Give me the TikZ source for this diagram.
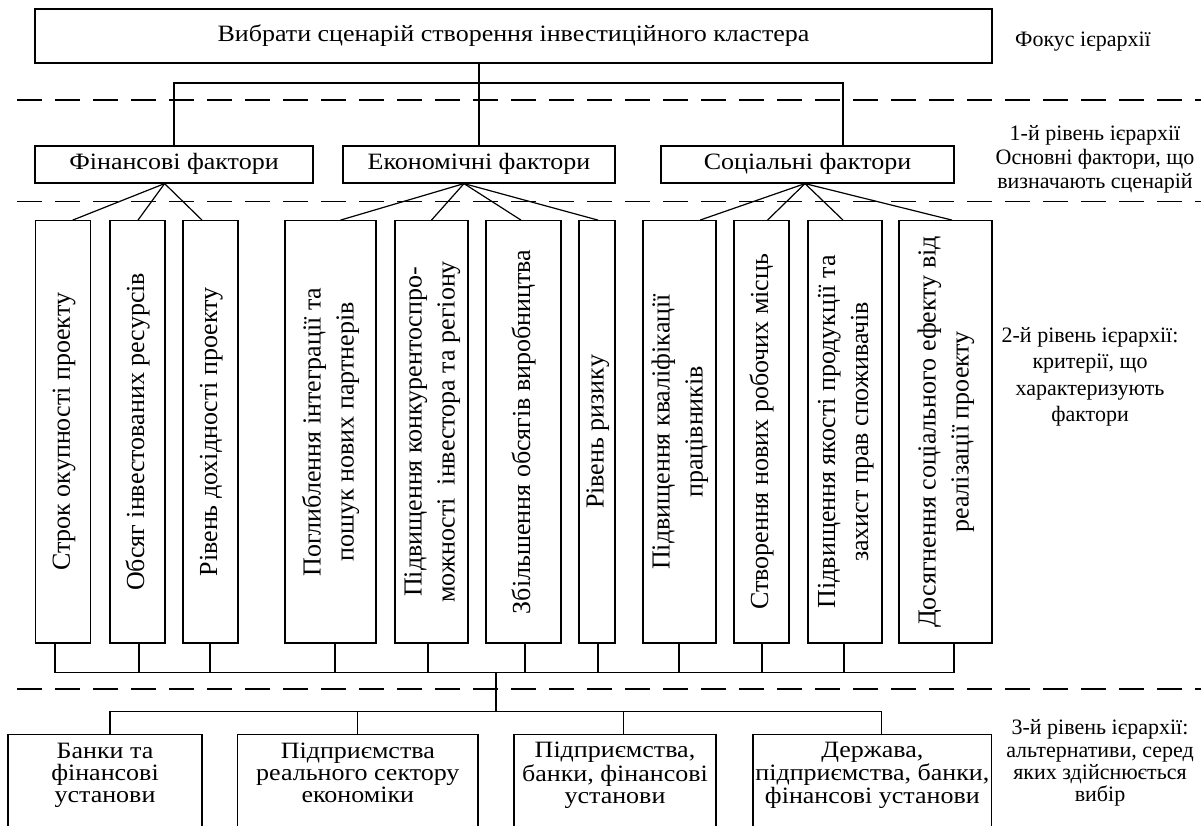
\documentclass[tikz,border=0pt]{standalone}
\usepackage{fontspec}
\setmainfont{Liberation Serif}
\usepackage{graphicx}
\newcommand{\sqz}[1]{\scalebox{1}[0.9]{\begin{tabular}{@{}c@{}}#1\end{tabular}}}
\newcommand{\vtext}[1]{\rotatebox{90}{\begin{tabular}{@{}c@{}}#1\end{tabular}}}
\begin{document}
\begin{tikzpicture}[x=1pt,y=-1pt,line width=1.2pt,
  box/.style={draw,inner sep=0pt,anchor=center},
  hfont/.style={font=\fontsize{26pt}{24.4pt}\selectfont},
  vbox/.style={box,minimum height=422.3pt,font=\fontsize{26pt}{33pt}\selectfont},
  lbl/.style={align=center,inner sep=0pt},
  dashline/.style={line width=1.4pt,dash pattern=on 25pt off 13pt}]
\useasboundingbox (0,0) rectangle (1201,825);
\clip (0,0) rectangle (1201,825);
% dashed separators
\coordinate (d1a) at (17,100);  \coordinate (d1b) at (1201,100);
\coordinate (d2a) at (17,201.7); \coordinate (d2b) at (1201,201.7);
\coordinate (d3a) at (17,689);  \coordinate (d3b) at (1201,689);
\draw[dashline] (d1a) -- (d1b);
\draw[dashline] (d2a) -- (d2b);
\draw[dashline] (d3a) -- (d3b);
% top
\node[box,hfont,minimum width=957pt,minimum height=54pt] (top) at (513.5,36) {\sqz{Вибрати сценарій створення інвестиційного кластера}};
% level 1
\node[box,hfont,minimum width=278pt,minimum height=37pt] (fin) at (174,164.5) {\sqz{Фінансові фактори}};
\node[box,hfont,minimum width=272pt,minimum height=37pt] (eco) at (479,164.5) {\sqz{Економічні фактори}};
\node[box,hfont,minimum width=293pt,minimum height=37pt] (soc) at (807.5,164.5) {\sqz{Соціальні фактори}};
% level 2
\node[vbox,minimum width=55pt] (c1) at (63.2,431.85) {\vtext{Строк окупності проекту}};
\node[vbox,minimum width=55pt] (c2) at (137.5,431.85) {\vtext{Обсяг інвестованих ресурсів}};
\node[vbox,minimum width=55pt] (c3) at (210.5,431.85) {\vtext{Рівень дохідності проекту}};
\node[vbox,minimum width=91pt] (c4) at (330.5,431.85) {\vtext{Поглиблення інтеграції та\\пошук нових партнерів}};
\node[vbox,minimum width=73pt] (c5) at (431.5,431.85) {\vtext{Підвищення конкурентоспро-\\можності \ інвестора та регіону}};
\node[vbox,minimum width=75pt] (c6) at (523.5,431.85) {\vtext{Збільшення обсягів виробництва}};
\node[vbox,minimum width=36pt] (c7) at (597,431.85) {\vtext{Рівень ризику}};
\node[vbox,minimum width=73pt] (c8) at (679.5,431.85) {\vtext{Підвищення кваліфікації\\працівників}};
\node[vbox,minimum width=55pt] (c9) at (761.5,431.85) {\vtext{Створення нових робочих місць}};
\node[vbox,minimum width=74pt] (c10) at (845,431.85) {\vtext{Підвищення якості продукції та\\захист прав споживачів}};
\node[vbox,minimum width=93pt] (c11) at (945.5,431.85) {\vtext{Досягнення соціального ефекту від\\реалізації проекту}};
% level 3 boxes (run past the lower edge)
\node[box,minimum width=194pt,minimum height=110.3pt] (b1) at (105,789.85) {};
\node[box,minimum width=240.3pt,minimum height=110.3pt] (b2) at (357.85,789.85) {};
\node[box,minimum width=202pt,minimum height=110.3pt] (b3) at (615,789.85) {};
\node[box,minimum width=238.7pt,minimum height=110.3pt] (b4) at (872.35,789.85) {};
\node[hfont,inner sep=0pt] (b1t) at (105,776) {\sqz{Банки та\\фінансові\\установи}};
\node[hfont,inner sep=0pt] (b2t) at (357.85,776) {\sqz{Підприємства\\реального сектору\\економіки}};
\node[hfont,inner sep=0pt] (b3t) at (615,776) {\sqz{Підприємства,\\банки, фінансові\\установи}};
\node[hfont,inner sep=0pt] (b4t) at (872.35,776) {\sqz{Держава,\\підприємства, банки,\\фінансові установи}};
% right labels
\node[lbl,font=\fontsize{22pt}{24pt}\selectfont] (r0) at (1083,42) {Фокус ієрархії};
\node[lbl,font=\fontsize{22pt}{24pt}\selectfont] (r1) at (1095,159) {1-й рівень ієрархії\\Основні фактори, що\\визначають сценарій};
\node[lbl,font=\fontsize{22pt}{26.5pt}\selectfont] (r2) at (1090,377) {2-й рівень ієрархії:\\критерії, що\\характеризують\\фактори};
\node[lbl,font=\fontsize{22pt}{22.3pt}\selectfont] (r3) at (1100,763) {3-й рівень ієрархії:\\альтернативи, серед\\яких здійснюється\\вибір};
% top connectors
\coordinate (h1) at (0,83);
\draw (top.south -| eco.north) -- (eco.north);
\draw (fin.north) -- (fin.north |- h1) -- ([xshift=35.5pt]soc.north |- h1) -- ([xshift=35.5pt]soc.north);
% fans
\draw ([xshift=-9.4pt]fin.south) -- ([xshift=9.5pt]c1.north);
\draw ([xshift=-9.4pt]fin.south) -- ([xshift=0.5pt]c2.north);
\draw ([xshift=-9.4pt]fin.south) -- ([xshift=-8.5pt]c3.north);
\draw ([xshift=-15pt]eco.south) -- ([xshift=10pt]c4.north);
\draw ([xshift=-15pt]eco.south) -- (c5.north);
\draw ([xshift=-15pt]eco.south) -- ([xshift=-2.5pt]c6.north);
\draw ([xshift=-15pt]eco.south) -- ([xshift=1pt]c7.north);
\draw ([xshift=-2.5pt]soc.south) -- ([xshift=20.5pt]c8.north);
\draw ([xshift=-2.5pt]soc.south) -- ([xshift=6pt]c9.north);
\draw ([xshift=-2.5pt]soc.south) -- ([xshift=-2pt]c10.north);
\draw ([xshift=-2.5pt]soc.south) -- ([xshift=6.5pt]c11.north);
% bus
\coordinate (bus) at (496,672.7);
\coordinate (h3) at (496,711.7);
\draw ([xshift=-8.2pt]c1.south) -- ([xshift=-8.2pt]c1.south |- bus) -- ([xshift=8.5pt]c11.south |- bus) -- ([xshift=8.5pt]c11.south);
\draw ([xshift=1.5pt]c2.south) -- ([xshift=1.5pt]c2.south |- bus);
\draw ([xshift=-0.5pt]c3.south) -- ([xshift=-0.5pt]c3.south |- bus);
\draw ([xshift=4.5pt]c4.south) -- ([xshift=4.5pt]c4.south |- bus);
\draw ([xshift=-3.5pt]c5.south) -- ([xshift=-3.5pt]c5.south |- bus);
\draw ([xshift=1.5pt]c6.south) -- ([xshift=1.5pt]c6.south |- bus);
\draw ([xshift=1pt]c7.south) -- ([xshift=1pt]c7.south |- bus);
\draw ([xshift=-0.5pt]c8.south) -- ([xshift=-0.5pt]c8.south |- bus);
\draw ([xshift=0.5pt]c9.south) -- ([xshift=0.5pt]c9.south |- bus);
\draw ([xshift=-1pt]c10.south) -- ([xshift=-1pt]c10.south |- bus);
\draw (bus) -- (h3);
\draw ([xshift=5pt]b1.north) -- ([xshift=5pt]b1.north |- h3) -- ([xshift=9.3pt]b4.north |- h3) -- ([xshift=9.3pt]b4.north);
\draw (b2.north) -- (b2.north |- h3);
\draw ([xshift=8.7pt]b3.north) -- ([xshift=8.7pt]b3.north |- h3);
\end{tikzpicture}
\end{document}
